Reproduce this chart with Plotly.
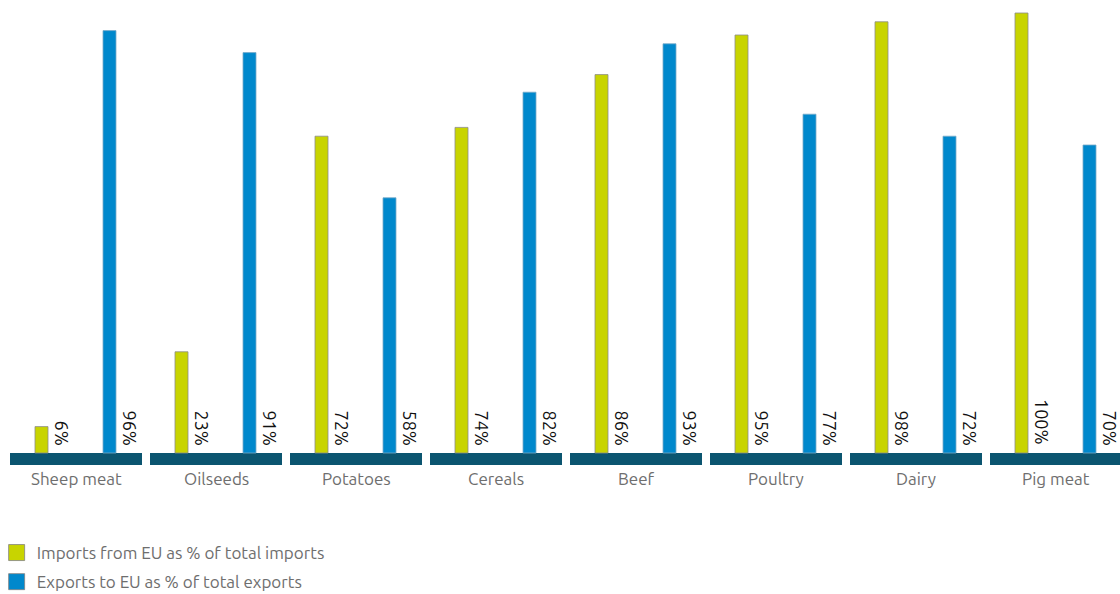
import plotly.graph_objects as go

categories = ["Sheep meat", "Oilseeds", "Potatoes", "Cereals", "Beef", "Poultry", "Dairy", "Pig meat"]
imports_eu = [6, 23, 72, 74, 86, 95, 98, 100]
exports_eu = [96, 91, 58, 82, 93, 77, 72, 70]
series_names = ["Imports from EU as % of total imports", "Exports to EU as % of total exports"]

GREEN = "#c8d400"
BLUE = "#0088cc"
TEAL = "#0b5570"
GREY = "#6e6e6e"
FONT = "Ubuntu, 'Open Sans', sans-serif"

W, H = 1120, 594
PITCH = 140.0          # px per category
C0 = 76.0              # px center of first category
PX_PER_PCT = 4.4
BASE_PX = 453.0

def px(v):
    return v / PITCH

fig = go.Figure()

# category baseline bands
fig.add_trace(go.Bar(
    x=categories, y=[-12 / PX_PER_PCT] * len(categories), base=0,
    width=px(132), offset=px(-66),
    marker=dict(color=TEAL, line=dict(width=0)),
    showlegend=False, hoverinfo="skip"))

fig.add_trace(go.Bar(
    x=categories, y=imports_eu, name=series_names[0],
    width=px(13), offset=px(-34.5 - 6.5),
    marker=dict(color=GREEN, line=dict(color="rgba(140,140,140,0.8)", width=1)),
    showlegend=False))

fig.add_trace(go.Bar(
    x=categories, y=exports_eu, name=series_names[1],
    width=px(13), offset=px(33.5 - 6.5),
    marker=dict(color=BLUE, line=dict(color="rgba(120,170,200,0.8)", width=1)),
    showlegend=False))

# legend entries
for name, col, grp in [(series_names[0], GREEN, "a"), (series_names[1], BLUE, "b")]:
    fig.add_trace(go.Scatter(
        x=[None], y=[None], mode="markers", name=name, legendgroup=grp,
        marker=dict(symbol="square", size=16, color=col,
                    line=dict(color="rgba(130,130,130,0.8)", width=1))))

annotations = []
for i, cat in enumerate(categories):
    annotations.append(dict(
        x=cat, y=0, yshift=-25, text=cat, showarrow=False,
        font=dict(family=FONT, size=17, color=GREY),
        xanchor="center", yanchor="middle"))
    for vals, shift in [(imports_eu, -14), (exports_eu, 54)]:
        annotations.append(dict(
            x=cat, y=0, xshift=shift, yshift=6, text=f"{vals[i]}%", showarrow=False,
            textangle=90, font=dict(family=FONT, size=18, color="#111111"),
            xanchor="center", yanchor="bottom"))

x_lo = (0 - C0) / PITCH
x_hi = (W - C0) / PITCH
y_hi = BASE_PX / PX_PER_PCT
y_lo = (BASE_PX - H) / PX_PER_PCT

fig.update_layout(
    width=W, height=H,
    margin=dict(l=0, r=0, t=0, b=0, autoexpand=False),
    paper_bgcolor="white", plot_bgcolor="white",
    barmode="overlay",
    xaxis=dict(type="category", range=[x_lo, x_hi], visible=False, fixedrange=True),
    yaxis=dict(range=[y_lo, y_hi], visible=False, fixedrange=True),
    annotations=annotations,
    showlegend=True,
    legend=dict(x=-0.003, y=1 - 535 / H, xanchor="left", yanchor="top",
                font=dict(family=FONT, size=17, color=GREY),
                itemsizing="trace", tracegroupgap=4, bgcolor="rgba(0,0,0,0)"),
)

fig.write_html("out.html")
